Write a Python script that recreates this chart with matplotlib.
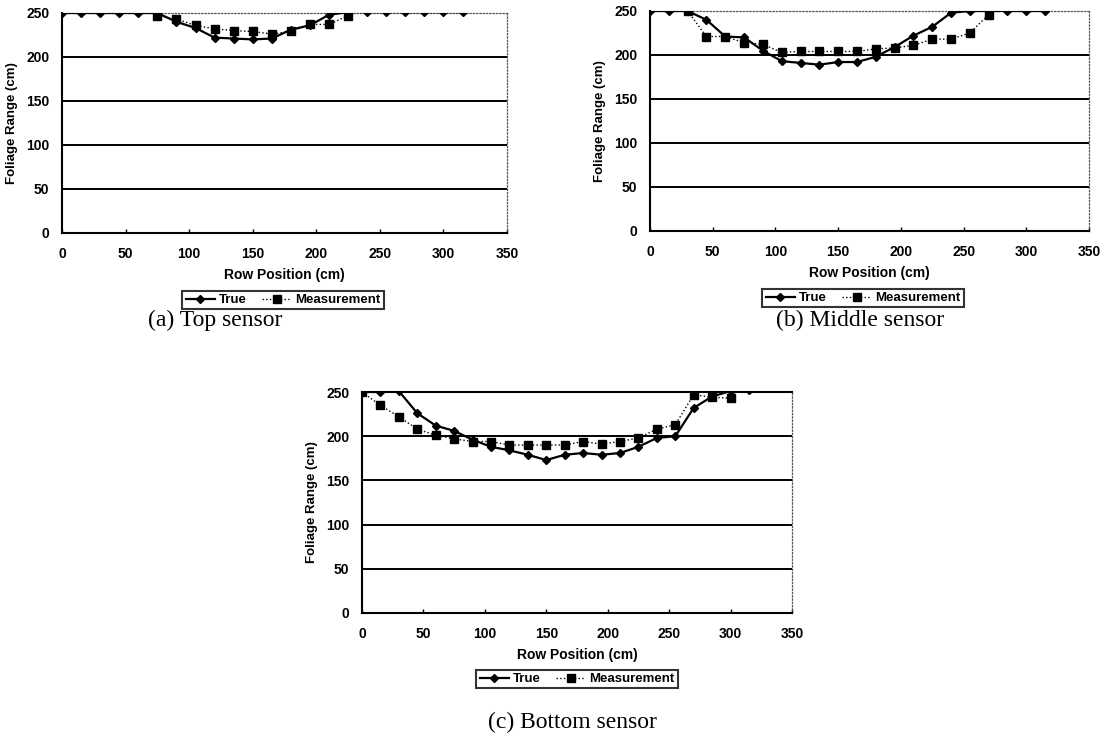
import numpy as np
import matplotlib.pyplot as plt

# Row positions (cm)
pos = np.arange(0, 330, 15)

# (a) Top sensor
top_true = [250, 250, 250, 250, 250, 250, 240, 233, 222, 221, 220, 221, 231, 236, 248, 251,
            251, 251, 251, 251, 251, 251]
top_meas_x = pos[5:16]
top_meas = [247, 243, 236, 232, 230, 229, 226, 229, 237, 237, 247]

# (b) Middle sensor
mid_true = [250, 250, 250, 240, 221, 220, 205, 193, 191, 189, 192, 192, 198, 209, 222, 232,
            248, 250, 250, 250, 250, 250]
mid_meas_x = pos[2:19]
mid_meas = [250, 221, 221, 214, 212, 203, 204, 204, 204, 204, 207, 208, 211, 218, 218, 225, 246]

# (c) Bottom sensor
bot_true = [250, 250, 251, 226, 212, 206, 196, 188, 184, 179, 173, 179, 181, 179, 181, 188,
            198, 200, 232, 245, 251, 252]
bot_meas_x = pos[0:21]
bot_meas = [250, 235, 222, 208, 201, 197, 194, 194, 190, 190, 190, 190, 194, 191, 194, 198,
            208, 213, 247, 244, 243]

captions = ["(a) Top sensor", "(b) Middle sensor", "(c) Bottom sensor"]

W, H = 1117, 738
fig = plt.figure(figsize=(W / 100, H / 100), dpi=100)
plt.rcParams['font.family'] = ['Liberation Sans', 'DejaVu Sans']


def panel(left, top, width, height, true_y, meas_x, meas_y, leg_xy, solid_top=False):
    ax = fig.add_axes([left / W, 1 - (top + height) / H, width / W, height / H])
    for y in [50, 100, 150, 200]:
        ax.axhline(y, color='black', lw=1.4, zorder=1)
    ax.plot(meas_x, meas_y, color='black', ls=':', lw=1.0, marker='s', ms=5.5, zorder=3,
            label='Measurement')
    ax.plot(pos, true_y, color='black', ls='-', lw=1.6, marker='D', ms=3.6, zorder=4,
            label='True')
    ax.set_xlim(0, 350)
    ax.set_ylim(0, 250)
    ax.set_xticks(range(0, 351, 50))
    ax.set_yticks(range(0, 251, 50))
    ax.tick_params(axis='x', direction='in', length=3, width=1, pad=10, labelsize=10)
    ax.tick_params(axis='y', length=0, pad=9, labelsize=10)
    for lab in ax.get_xticklabels() + ax.get_yticklabels():
        lab.set_fontweight('bold')
    ax.spines['left'].set_linewidth(1.5)
    ax.spines['bottom'].set_linewidth(1.5)
    for s in ['top', 'right']:
        if solid_top and s == 'top':
            ax.spines[s].set_linewidth(1.5)
        else:
            ax.spines[s].set_linestyle(':')
            ax.spines[s].set_color('#555555')
            ax.spines[s].set_linewidth(0.9)
    ax.set_xlabel("Row Position (cm)", fontsize=10, fontweight='bold', labelpad=5)
    ax.set_ylabel("Foliage Range (cm)", fontsize=9.5, fontweight='bold', labelpad=6)
    h, l = ax.get_legend_handles_labels()
    leg = fig.legend(h[::-1], l[::-1], loc='center',
                     bbox_to_anchor=(leg_xy[0] / W, 1 - leg_xy[1] / H),
                     ncol=2, frameon=True, fancybox=False, edgecolor='black',
                     handlelength=2.2, handletextpad=0.3, columnspacing=1.2,
                     borderpad=0.25, prop={'weight': 'bold', 'size': 9.5})
    leg.get_frame().set_linewidth(1.5)
    return ax


panel(62, 13, 445, 220, top_true, top_meas_x, top_meas, (283, 300))
panel(650, 11, 439, 220, mid_true, mid_meas_x, mid_meas, (863, 298))
panel(362, 392, 430, 221, bot_true, bot_meas_x, bot_meas, (577, 679), solid_top=True)

for cx, cy, txt in [(215, 320, captions[0]), (860, 320, captions[1]), (572, 722, captions[2])]:
    fig.text(cx / W, 1 - cy / H, txt, ha='center', va='center', fontsize=17,
             family=['Liberation Serif', 'DejaVu Serif'])

fig.savefig("out.png", dpi=100)
